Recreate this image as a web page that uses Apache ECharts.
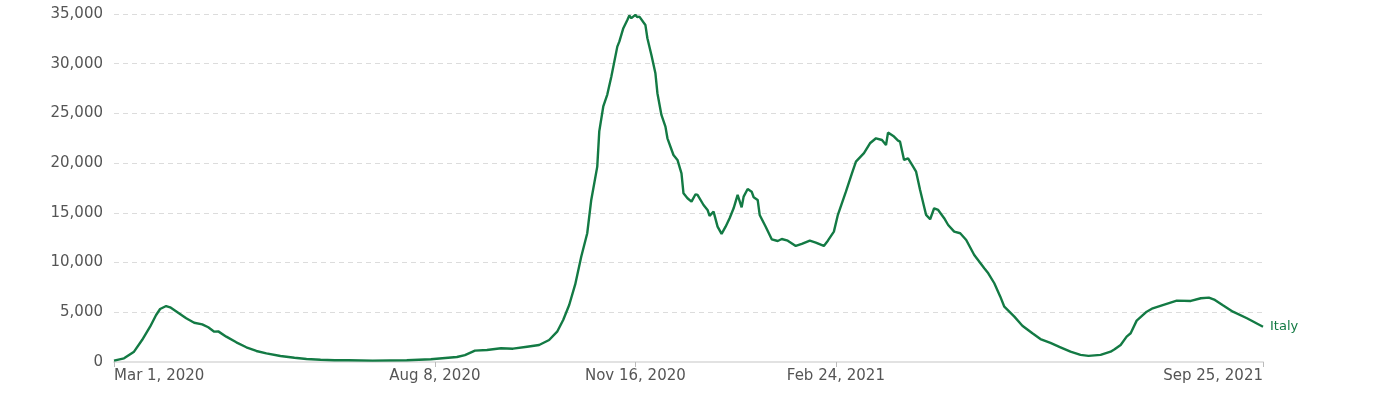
<!DOCTYPE html>
<html><head><meta charset="utf-8">
<script src="https://cdn.jsdelivr.net/npm/echarts@6/dist/echarts.min.js"></script>
<style>html,body{margin:0;padding:0;background:#fff}#c{width:1385px;height:396px}</style>
</head><body><div id="c"></div>
<script>
const seriesName = 'Italy';
const dates = ['2020-03-01','2020-03-06','2020-03-11','2020-03-15','2020-03-19','2020-03-22','2020-03-24','2020-03-27','2020-03-29','2020-04-02','2020-04-06','2020-04-10','2020-04-14','2020-04-17','2020-04-20','2020-04-22','2020-04-26','2020-05-01','2020-05-06','2020-05-11','2020-05-16','2020-05-23','2020-05-30','2020-06-05','2020-06-12','2020-06-19','2020-06-26','2020-07-08','2020-07-25','2020-08-06','2020-08-19','2020-08-23','2020-08-28','2020-09-03','2020-09-10','2020-09-16','2020-09-23','2020-09-29','2020-10-04','2020-10-08','2020-10-11','2020-10-14','2020-10-17','2020-10-20','2020-10-23','2020-10-25','2020-10-28','2020-10-29','2020-10-31','2020-11-02','2020-11-04','2020-11-07','2020-11-08','2020-11-10','2020-11-12','2020-11-13','2020-11-14','2020-11-16','2020-11-17','2020-11-18','2020-11-21','2020-11-22','2020-11-24','2020-11-26','2020-11-27','2020-11-29','2020-12-01','2020-12-02','2020-12-05','2020-12-07','2020-12-09','2020-12-10','2020-12-12','2020-12-14','2020-12-16','2020-12-17','2020-12-20','2020-12-22','2020-12-23','2020-12-25','2020-12-27','2020-12-29','2020-12-31','2021-01-02','2021-01-04','2021-01-06','2021-01-08','2021-01-09','2021-01-11','2021-01-13','2021-01-14','2021-01-16','2021-01-17','2021-01-20','2021-01-23','2021-01-26','2021-01-28','2021-01-31','2021-02-04','2021-02-07','2021-02-11','2021-02-14','2021-02-18','2021-02-20','2021-02-23','2021-02-25','2021-03-01','2021-03-04','2021-03-06','2021-03-10','2021-03-13','2021-03-16','2021-03-19','2021-03-21','2021-03-22','2021-03-25','2021-03-27','2021-03-28','2021-03-30','2021-04-01','2021-04-03','2021-04-05','2021-04-07','2021-04-09','2021-04-10','2021-04-12','2021-04-14','2021-04-16','2021-04-19','2021-04-21','2021-04-24','2021-04-27','2021-04-30','2021-05-04','2021-05-09','2021-05-11','2021-05-14','2021-05-17','2021-05-19','2021-05-24','2021-05-28','2021-06-02','2021-06-06','2021-06-11','2021-06-16','2021-06-21','2021-06-26','2021-06-30','2021-07-06','2021-07-11','2021-07-13','2021-07-16','2021-07-19','2021-07-21','2021-07-24','2021-07-29','2021-08-01','2021-08-06','2021-08-13','2021-08-20','2021-08-25','2021-08-29','2021-09-01','2021-09-05','2021-09-10','2021-09-17','2021-09-25'];
const cases = [130,370,1040,2210,3550,4730,5330,5630,5500,4960,4400,3950,3790,3490,3050,3080,2550,1980,1480,1110,870,600,430,300,230,170,170,140,170,270,500,700,1140,1210,1380,1340,1540,1710,2210,3050,4230,5730,7800,10590,12950,16300,19650,23200,25700,26900,28700,31720,32220,33570,34400,34840,34580,34910,34680,34740,33900,32560,30880,29040,27030,24850,23670,22500,20820,20320,18980,16970,16470,16130,16870,16800,15790,15290,14690,15120,13610,12880,13610,14460,15460,16800,15560,16630,17400,17130,16570,16300,14790,13610,12340,12170,12370,12200,11670,11870,12200,12000,11670,12200,13110,14800,17130,18980,20150,21000,22000,22500,22330,21830,23070,22670,22260,22160,20320,20490,19820,19140,17300,15620,14790,14360,15460,15290,14460,13780,13110,12950,12270,10760,9430,8920,7920,6570,5560,4560,3650,2890,2310,1920,1480,1040,720,620,720,1040,1280,1710,2550,2890,4160,5060,5400,5730,6170,6140,6410,6470,6240,5700,5060,4400,3550];
const tickDates = ['2020-03-01','2020-08-08','2020-11-16','2021-02-24','2021-09-25'];
const yMin = 0, yMax = 35000, yStep = 5000;
const monthNames = ['Jan','Feb','Mar','Apr','May','Jun','Jul','Aug','Sep','Oct','Nov','Dec'];

const toTs = s => { const p = s.split('-').map(Number); return Date.UTC(p[0], p[1] - 1, p[2]); };
const tickTs = tickDates.map(toTs);
const chart = echarts.init(document.getElementById('c'), null, {renderer: 'canvas'});
const green = '#137a44';
chart.setOption({
  animation: false,
  backgroundColor: '#fff',
  grid: {left: 114, right: 122, top: 14, bottom: 34, containLabel: false},
  xAxis: {
    type: 'value',
    min: toTs(dates[0]),
    max: toTs(dates[dates.length - 1]),
    splitLine: {show: false},
    axisLine: {show: true, lineStyle: {color: '#e2e2e2', width: 2}},
    axisTick: {show: true, customValues: tickTs, length: 5, lineStyle: {color: '#bbb', width: 1}},
    axisLabel: {
      customValues: tickTs,
      alignMinLabel: 'left', alignMaxLabel: 'right',
      margin: 7,
      color: '#555', fontSize: 15, fontFamily: 'DejaVu Sans',
      formatter: v => { const d = new Date(v); return monthNames[d.getUTCMonth()] + ' ' + d.getUTCDate() + ', ' + d.getUTCFullYear(); }
    }
  },
  yAxis: {
    type: 'value', min: yMin, max: yMax, interval: yStep,
    axisLine: {show: false}, axisTick: {show: false},
    splitLine: {show: true, lineStyle: {color: '#dcdcdc', type: [5, 4], width: 1}},
    axisLabel: {
      margin: 11, color: '#555', fontSize: 15, fontFamily: 'DejaVu Sans',
      formatter: v => v.toLocaleString('en-US')
    }
  },
  series: [{
    name: seriesName, type: 'line', showSymbol: false, smooth: false,
    data: dates.map((d, i) => [toTs(d), cases[i]]),
    lineStyle: {color: green, width: 2.4},
    itemStyle: {color: green},
    endLabel: {show: true, formatter: seriesName, color: green, fontSize: 13, fontFamily: 'DejaVu Sans', distance: 7}
  }]
});
</script></body></html>
